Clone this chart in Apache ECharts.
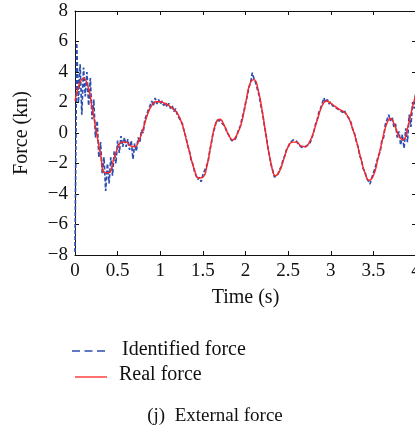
<!DOCTYPE html>
<html>
<head>
<meta charset="utf-8">
<script src="https://cdn.jsdelivr.net/npm/echarts@6/dist/echarts.min.js"></script>
<style>
html,body{margin:0;padding:0;background:#fff;}
#chart{width:415px;height:434px;}
</style>
</head>
<body>
<div id="chart"></div>
<script>
// Time ticks (s) and force ticks (kn)
const xTicks = [0, 0.5, 1, 1.5, 2, 2.5, 3, 3.5, 4];
const yTicks = [-8, -6, -4, -2, 0, 2, 4, 6, 8];

// Real force sampled every 0.05 s from 0 to 4 s
const realStep = 0.05;
const realForce = [
  2.1, 3.2, 3.6, 3.1, 1.7, 0.1, -1.4, -2.6, -2.6, -1.8,
  -1.0, -0.6, -0.6, -0.85, -0.9, -0.5, 0.3, 1.2, 1.8, 2.05,
  2.05, 1.95, 1.8, 1.6, 1.3, 0.7, -0.3, -1.4, -2.4, -2.95,
  -2.9, -2.1, -0.6, 0.6, 0.9, 0.5, -0.1, -0.45, -0.1, 0.6,
  1.9, 3.2, 3.5, 2.8, 1.3, -0.5, -2.0, -2.8, -2.5, -1.7,
  -0.9, -0.6, -0.6, -0.85, -0.9, -0.6, 0.1, 1.0, 1.8, 2.1,
  1.95, 1.75, 1.55, 1.4, 1.1, 0.4, -0.5, -1.6, -2.6, -3.1,
  -2.8, -1.8, -0.6, 0.5, 0.95, 0.5, -0.2, -0.45, 0.3, 1.5,
  2.6
];

// Identified force sampled every 0.02 s from 0 to 4 s
const idStep = 0.02;
const identifiedForce = [
  -7.8, 5.9, 2.0, 4.5, 1.2, 4.3, 2.4, 4.0, 1.8, 3.6,
  0.9, 2.2, -0.3, 0.8, -1.6, -0.6, -2.7, -1.6, -3.8, -2.0,
  -3.3, -1.6, -2.8, -1.2, -2.0, -0.5, -1.3, -0.2, -0.9, -0.3,
  -0.9, -0.4, -1.1, -0.5, -1.7, -0.7, -1.2, -0.3, -0.6, 0.2,
  0.0, 0.9, 0.8, 1.5, 1.4, 2.1, 1.8, 2.3, 1.9, 2.2,
  1.9, 2.1, 1.8, 2.0, 1.7, 1.95, 1.6, 1.8, 1.4, 1.6,
  1.2, 1.2, 0.8, 0.6, 0.1, -0.25, -0.8, -1.1, -1.75, -2.0,
  -2.5, -2.6, -3.05, -2.9, -3.2, -2.75, -2.7, -2.2, -1.9, -1.2,
  -0.65, 0.0, 0.35, 0.85, 0.95, 0.8, 0.85, 0.55, 0.4, 0.05,
  -0.1, -0.35, -0.5, -0.45, -0.4, -0.15, 0.25, 0.45, 1.0, 1.35,
  1.95, 2.4, 3.0, 3.3, 3.95, 3.55, 3.3, 2.85, 2.45, 1.8,
  1.3, 0.55, -0.05, -0.85, -1.45, -2.1, -2.45, -2.9, -2.95, -2.7,
  -2.4, -2.2, -1.75, -1.5, -1.1, -0.95, -0.65, -0.55, -0.45, -0.5,
  -0.55, -0.75, -0.85, -0.95, -1.0, -0.9, -0.85, -0.75, -0.6, -0.3,
  0.05, 0.55, 0.85, 1.35, 1.6, 1.95, 2.3, 2.0, 2.2, 1.9,
  2.05, 1.8, 1.85, 1.65, 1.75, 1.5, 1.6, 1.35, 1.5, 1.2,
  1.25, 0.9, 0.65, 0.2, -0.05, -0.55, -0.9, -1.5, -1.75, -2.35,
  -2.5, -2.95, -3.0, -3.35, -2.95, -2.9, -2.3, -2.2, -1.45, -1.25,
  -0.45, -0.3, 0.55, 0.5, 1.2, 0.8, 1.05, 0.4, 0.6, -0.3,
  0.1, -0.8, -0.1, -1.0, 0.3, -0.6, 1.2, 0.4, 2.0, 1.6,
  2.9
];

const legendNames = ['Identified force', 'Real force'];
const caption = '(j)  External force';

const realData = realForce.map((v, i) => [+(i * realStep).toFixed(2), v]);
const idData = identifiedForce.map((v, i) => [+(i * idStep).toFixed(2), v]);

const FONT = '"Liberation Serif", "DejaVu Serif", serif';
const INK = '#111';
const BLUE = '#2d4faf';
const RED = '#ff2424';
const fmtNum = v => (v < 0 ? '\u2212' + Math.abs(v) : String(v));

const boxAxis = {
  axisLine: {show: true, onZero: false, lineStyle: {color: INK, width: 1}},
  axisTick: {show: true, inside: true, length: 4, lineStyle: {color: INK}},
  splitLine: {show: false}
};

const chart = echarts.init(document.getElementById('chart'), null, {renderer: 'canvas'});
chart.setOption({
  animation: false,
  backgroundColor: '#fff',
  grid: {left: 75, right: -1, top: 11, bottom: 179, containLabel: false, outerBoundsMode: 'none'},
  xAxis: [Object.assign({
    type: 'value', min: xTicks[0], max: xTicks[xTicks.length - 1], interval: 0.5, position: 'bottom',
    name: 'Time (s)', nameLocation: 'middle', nameGap: 33,
    nameTextStyle: {fontFamily: FONT, fontSize: 20, color: INK},
    axisLabel: {fontFamily: FONT, fontSize: 19, color: INK, margin: 7, formatter: fmtNum, hideOverlap: false}
  }, boxAxis), Object.assign({
    type: 'value', min: xTicks[0], max: xTicks[xTicks.length - 1], interval: 0.5, position: 'top',
    axisLabel: {show: false}
  }, boxAxis)],
  yAxis: [Object.assign({
    type: 'value', min: yTicks[0], max: yTicks[yTicks.length - 1], interval: 2, position: 'left',
    name: 'Force (kn)', nameLocation: 'middle', nameGap: 43, nameRotate: 90,
    nameTextStyle: {fontFamily: FONT, fontSize: 20, color: INK},
    axisLabel: {fontFamily: FONT, fontSize: 19, color: INK, margin: 7, formatter: fmtNum}
  }, boxAxis), Object.assign({
    type: 'value', min: yTicks[0], max: yTicks[yTicks.length - 1], interval: 2, position: 'right',
    axisLabel: {show: false}
  }, boxAxis)],
  series: [{
    name: legendNames[0], type: 'line', data: idData, showSymbol: false, symbol: 'none',
    lineStyle: {color: BLUE, width: 1.7, type: [4, 2]},
    itemStyle: {color: BLUE},
    z: 2
  }, {
    name: legendNames[1], type: 'line', data: realData, showSymbol: false, symbol: 'none',
    smooth: 0.5,
    lineStyle: {color: RED, width: 1.4},
    itemStyle: {color: RED},
    z: 3
  }],
  graphic: [
    {type: 'line', shape: {x1: 72, y1: 351, x2: 109, y2: 351},
     style: {stroke: BLUE, lineWidth: 1.3, lineDash: [8, 4.5]}},
    {type: 'text', x: 122, y: 350,
     style: {text: legendNames[0], fontFamily: FONT, fontSize: 20, fill: INK, verticalAlign: 'middle'}},
    {type: 'line', shape: {x1: 75, y1: 377, x2: 107, y2: 377},
     style: {stroke: RED, lineWidth: 1.3}},
    {type: 'text', x: 119, y: 375,
     style: {text: legendNames[1], fontFamily: FONT, fontSize: 20, fill: INK, verticalAlign: 'middle'}},
    {type: 'text', x: 215, y: 416,
     style: {text: caption, fontFamily: FONT, fontSize: 19, fill: INK, align: 'center', verticalAlign: 'middle'}}
  ]
});
</script>
</body>
</html>
